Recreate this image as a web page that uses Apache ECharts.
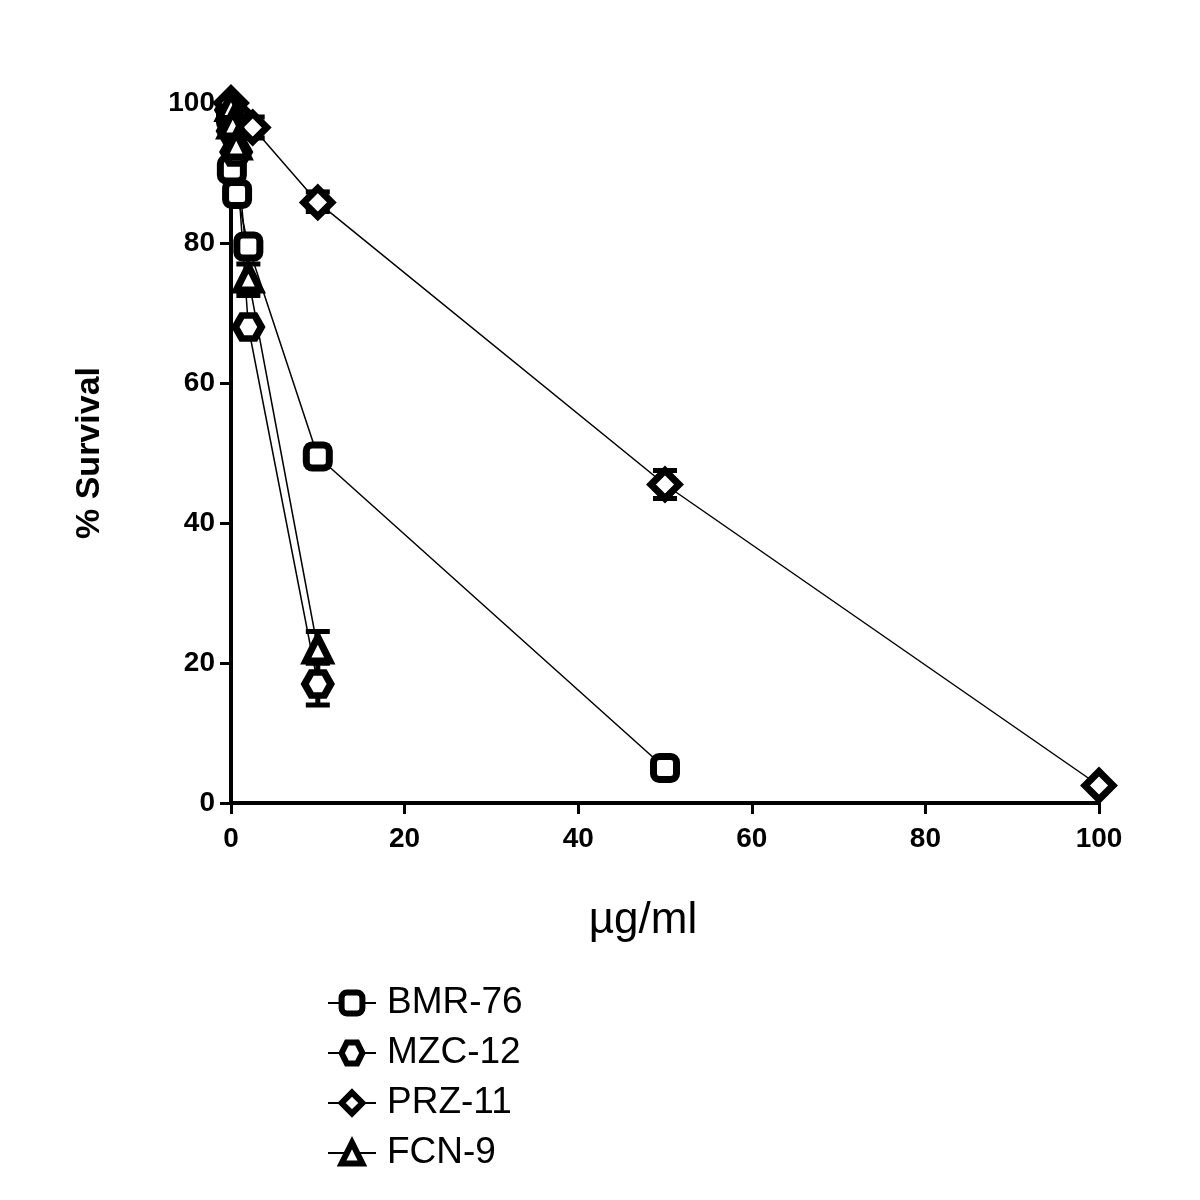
<!DOCTYPE html>
<html>
<head>
<meta charset="utf-8">
<script src="https://cdn.jsdelivr.net/npm/echarts@6/dist/echarts.min.js"></script>
<style>
  html, body { margin: 0; padding: 0; background: #fff; }
  #chart { width: 1200px; height: 1200px; }
</style>
</head>
<body>
<div id="chart"></div>
<script>
// dose (µg/ml) vs % survival
const seriesNames = ['BMR-76', 'MZC-12', 'PRZ-11', 'FCN-9'];

const bmrPoints = [[0, 98], [0.1, 90.5], [0.7, 87], [2, 79.5], [10, 49.5], [50, 5]];
const mzcPoints = [[0, 99], [0.2, 96], [0.6, 93], [2, 68], [10, 17]];
const przPoints = [[0, 100], [0.5, 98.5], [2.5, 96.5], [10, 85.8], [50, 45.5], [100, 2.5]];
const fcnPoints = [[0, 99.5], [0.2, 97], [0.6, 94], [2, 75], [10, 22]];

// error bars: [x, low, high]
const bmrErrors = [[10, 48, 51]];
const mzcErrors = [[10, 14, 20]];
const przErrors = [[2.5, 95, 98], [10, 84.5, 87.3], [50, 43.5, 47.5]];
const fcnErrors = [[2, 72.5, 77], [10, 20, 24.5]];

const xTicks = [0, 20, 40, 60, 80, 100];
const yTicks = [0, 20, 40, 60, 80, 100];

const hexagon = 'path://M-1,0 L-0.5,-0.866 L0.5,-0.866 L1,0 L0.5,0.866 L-0.5,0.866 Z';

const chart = echarts.init(document.getElementById('chart'));

const lineSeries = (name, data, symbol, size) => ({
    name: name,
    type: 'line',
    data: data,
    symbol: symbol,
    symbolSize: size,
    showAllSymbol: true,
    clip: false,
    z: 3,
    lineStyle: { color: '#000', width: 1.5 },
    itemStyle: { color: '#fff', borderColor: '#000', borderWidth: 7 },
});

const errorSeries = (name, data) => ({
    name: name + ' err',
    type: 'custom',
    data: data,
    clip: false,
    z: 2,
    renderItem: (params, api) => {
        const top = api.coord([api.value(0), api.value(2)]);
        const bottom = api.coord([api.value(0), api.value(1)]);
        const cap = 12;
        const style = { stroke: '#000', lineWidth: 5 };
        return {
            type: 'group',
            children: [
                { type: 'line', shape: { x1: top[0], y1: top[1], x2: bottom[0], y2: bottom[1] }, style: style },
                { type: 'line', shape: { x1: top[0] - cap, y1: top[1], x2: top[0] + cap, y2: top[1] }, style: style },
                { type: 'line', shape: { x1: bottom[0] - cap, y1: bottom[1], x2: bottom[0] + cap, y2: bottom[1] }, style: style },
            ],
        };
    },
});

const axisFont = { fontFamily: 'Liberation Sans', fontWeight: 'bold', fontSize: 28, color: '#000' };

chart.setOption({
    animation: false,
    backgroundColor: '#fff',
    grid: { left: 231, right: 101, top: 103, bottom: 397 },
    legend: {
        data: seriesNames,
        orient: 'vertical',
        left: 322,
        top: 979,
        itemWidth: 48,
        itemHeight: 26,
        itemGap: 12,
        itemStyle: { borderWidth: 6 },
        lineStyle: { width: 2 },
        textStyle: { fontFamily: 'Liberation Sans', fontSize: 37, lineHeight: 38, color: '#000', padding: [0, 0, 0, 6] },
    },
    xAxis: {
        type: 'value',
        min: 0,
        max: 100,
        interval: 20,
        name: 'µg/ml',
        nameLocation: 'middle',
        nameGap: 96,
        nameTextStyle: { fontFamily: 'Liberation Sans', fontSize: 44, color: '#000', padding: [0, 44, 0, 0] },
        splitLine: { show: false },
        axisLine: { lineStyle: { color: '#000', width: 4 } },
        axisTick: { length: 11, lineStyle: { color: '#000', width: 3 } },
        axisLabel: Object.assign({ margin: 22, formatter: v => xTicks.includes(v) ? String(v) : '' }, axisFont),
    },
    yAxis: {
        type: 'value',
        min: 0,
        max: 100,
        interval: 20,
        name: '% Survival',
        nameLocation: 'middle',
        nameGap: 124,
        nameRotate: 90,
        nameTextStyle: { fontFamily: 'Liberation Sans', fontWeight: 'bold', fontSize: 34, color: '#000' },
        splitLine: { show: false },
        axisLine: { lineStyle: { color: '#000', width: 4 } },
        axisTick: { length: 11, lineStyle: { color: '#000', width: 3 } },
        axisLabel: Object.assign({ margin: 16, formatter: v => yTicks.includes(v) ? String(v) : '' }, axisFont),
    },
    series: [
        errorSeries('BMR-76', bmrErrors),
        errorSeries('MZC-12', mzcErrors),
        errorSeries('PRZ-11', przErrors),
        errorSeries('FCN-9', fcnErrors),
        lineSeries('BMR-76', bmrPoints, 'roundRect', 23),
        lineSeries('MZC-12', mzcPoints, hexagon, [26, 23]),
        lineSeries('PRZ-11', przPoints, 'diamond', 28),
        lineSeries('FCN-9', fcnPoints, 'triangle', 24),
    ],
});
</script>
</body>
</html>
